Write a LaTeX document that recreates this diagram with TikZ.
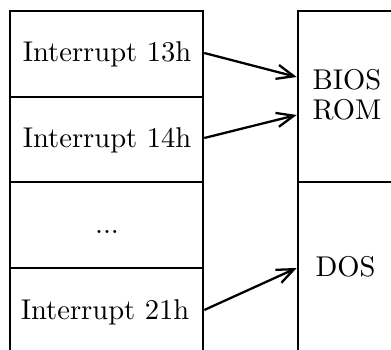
\documentclass[tikz,border=0pt]{standalone}
\usetikzlibrary{arrows.meta}
\begin{document}
\begin{tikzpicture}[x=0.35pt,y=-0.35pt,
  cell/.style={draw,line width=0.9pt,rectangle,inner sep=0pt,minimum width=193*0.35pt},
  bigbox/.style={draw,line width=0.9pt,rectangle,inner sep=0pt,minimum width=122*0.35pt},
  lbl/.style={inner sep=0pt,anchor=base},
  rlbl/.style={inner sep=0pt,anchor=base west},
  link/.style={line width=0.8pt,-{Straight Barb[length=6pt,width=5pt]}}]
\useasboundingbox (0,0) rectangle (391,350);
\clip (0,0) rectangle (391,350);
% left column cells
\node[cell,minimum height=86*0.35pt] (c1) at (106.5,54) {};
\node[cell,minimum height=85*0.35pt] (c2) at (106.5,139.5) {};
\node[cell,minimum height=86*0.35pt] (c3) at (106.5,225) {};
\node[cell,minimum height=110*0.35pt] (c4) at (106.5,323) {};
% right column boxes
\node[bigbox,minimum height=171*0.35pt] (r1) at (359,96.5) {};
\node[bigbox,minimum height=200*0.35pt] (r2) at (359,282) {};
% texts
\node[lbl] (t1) at (107,62) {Interrupt 13h};
\node[lbl] (t2) at (107,148) {Interrupt 14h};
\node[lbl] (t3) at (107,234) {...};
\node[lbl] (t4) at (105,320) {Interrupt 21h};
\node[rlbl] (bios) at (312,90) {BIOS};
\node[rlbl] (rom) at (312,120) {ROM};
\node[rlbl] (dos) at (315,277) {DOS};
% connectors
\coordinate (s1) at (c1.east |- 0,53);
\coordinate (s2) at (c2.east |- 0,138);
\coordinate (s4) at (c4.east |- 0,310);
\coordinate (e1) at (r1.west |- 0,77);
\coordinate (e2) at (r1.west |- 0,115);
\coordinate (e4) at (r2.west |- 0,268);
\draw[link] (s1) -- (e1);
\draw[link] (s2) -- (e2);
\draw[link] (s4) -- (e4);
\end{tikzpicture}
\end{document}
